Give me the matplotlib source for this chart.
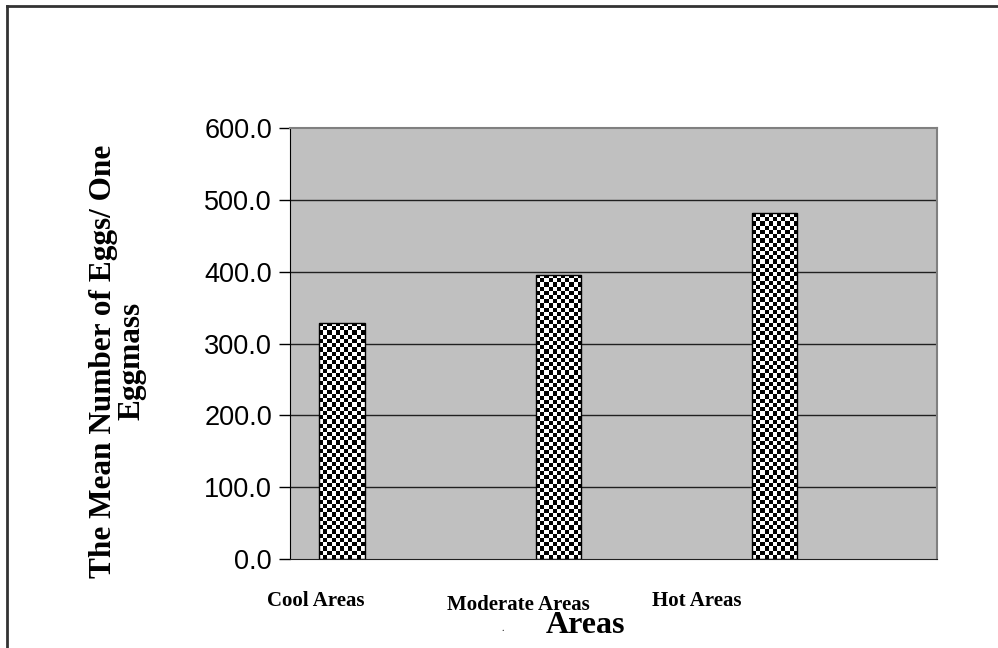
import numpy as np
import matplotlib.pyplot as plt
from matplotlib.lines import Line2D

# mean eggs per egg mass in each area
areas = ["Cool Areas", "Moderate Areas", "Hot Areas"]
mean_eggs = [329.0, 396.0, 481.0]
y_ticks = [0, 100, 200, 300, 400, 500, 600]

fig = plt.figure(figsize=(9.98, 6.48), dpi=100)
ax = fig.add_axes([0.2906, 0.1373, 0.6483, 0.6652])

ax.set_facecolor("#c0c0c0")
ax.set_yticks(y_ticks)
ax.set_yticklabels([f"{v:.1f}" for v in y_ticks],
                   fontname="Liberation Sans", fontsize=19.5)
ax.tick_params(axis="y", direction="out", length=8, width=1, pad=5)
ax.set_xticks([])

for v in y_ticks[1:-1]:
    ax.axhline(v, color="#202020", lw=1, zorder=1)

for side in ["top", "right"]:
    ax.spines[side].set_color("#808080")
    ax.spines[side].set_linewidth(1.5)
ax.spines["left"].set_color("black")
ax.spines["bottom"].set_color("#202020")

bars = ax.bar(range(len(areas)), mean_eggs, width=0.21,
              facecolor="white", edgecolor="black", linewidth=1, zorder=3)

# checkerboard fill, about 4 px per cell
for bar, val in zip(bars, mean_eggs):
    x0 = bar.get_x()
    w = bar.get_width()
    n_rows = int(round(val * 0.7183 / 4.2))
    n_cols = 11
    board = (np.indices((n_rows, n_cols)).sum(axis=0) % 2).astype(float)
    im = ax.imshow(board, cmap="gray", interpolation="nearest",
                   extent=(x0, x0 + w, 0, val), aspect="auto", zorder=2.5)
    im.set_clip_path(bar)
    bar.set_facecolor("none")

ax.set_xlim(-0.24, 2.75)
ax.set_ylim(0, 600)

# category labels below the axis
label_x = [0.316, 0.519, 0.698]
label_y = [0.072, 0.066, 0.072]
for name, lx, ly in zip(areas, label_x, label_y):
    fig.text(lx, ly, name, ha="center", va="center",
             fontname="Liberation Serif", fontweight="bold", fontsize=15)

fig.text(0.587, 0.034, "Areas", ha="center", va="center",
         fontname="Liberation Serif", fontweight="bold", fontsize=23)
fig.text(0.504, 0.030, ".", ha="center", va="center",
         fontname="Liberation Serif", fontsize=7)

fig.text(0.118, 0.443, "The Mean Number of Eggs/ One\nEggmass",
         rotation=90, ha="center", va="center", multialignment="center",
         fontname="Liberation Serif", fontweight="bold", fontsize=22.5,
         linespacing=1.0)

# outer frame along the left and top edges
fig.add_artist(Line2D([0.0075, 0.0075], [0, 0.991], color="#333333", lw=2,
                      transform=fig.transFigure))
fig.add_artist(Line2D([0.0075, 1.0], [0.991, 0.991], color="#333333", lw=2,
                      transform=fig.transFigure))

fig.savefig("out.png", dpi=100)
